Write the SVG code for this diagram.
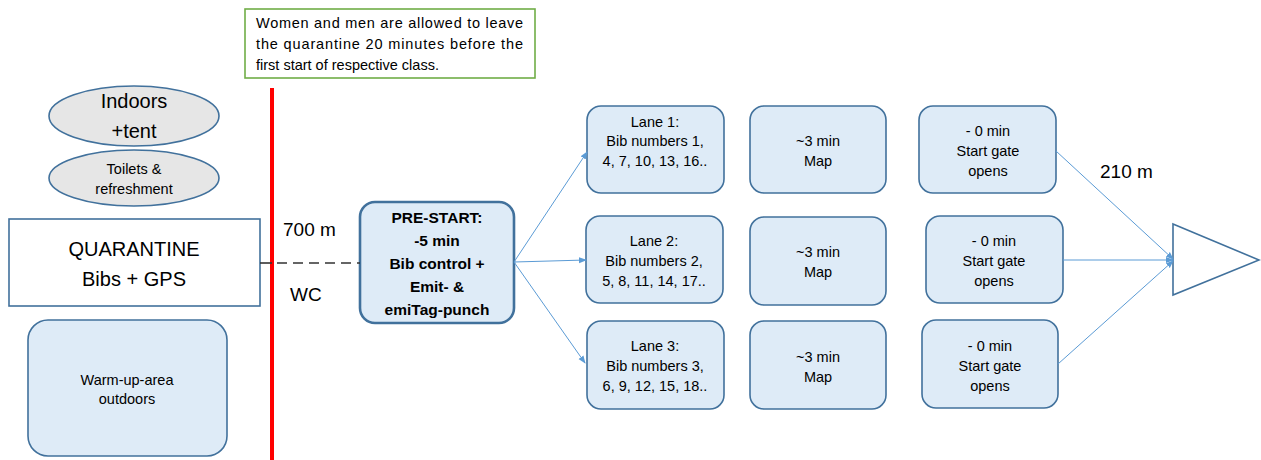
<svg xmlns="http://www.w3.org/2000/svg" width="1261" height="460" viewBox="0 0 1261 460">
<style>
text{font-family:"Liberation Sans",Arial,sans-serif;fill:#000}
.box{fill:#deebf7;stroke:#41719c;stroke-width:1.6}
.ell{fill:#e6e6e6;stroke:#41719c;stroke-width:1.6}
.t14{font-size:14.5px;text-anchor:middle}
.t20{font-size:20px;text-anchor:middle}
.b{font-size:15.5px;font-weight:bold;text-anchor:middle}
.note{font-size:14.5px}
.lbl{font-size:19px}
.conn{stroke:#5b9bd5;stroke-width:1;fill:none}
</style>
<defs>
<marker id="ah" markerWidth="8" markerHeight="8" refX="7" refY="4" orient="auto" markerUnits="userSpaceOnUse">
<path d="M0,1 L8,4 L0,7 Z" fill="#5b9bd5"/>
</marker>
</defs>
<rect width="1261" height="460" fill="#fff"/>

<g id="note">
<rect x="245" y="9" width="290" height="69" fill="#fff" stroke="#70ad47" stroke-width="1.6"/>
<text class="note" x="256" y="28" textLength="267" lengthAdjust="spacing">Women and men are allowed to leave</text>
<text class="note" x="256" y="49" textLength="267" lengthAdjust="spacing">the quarantine 20 minutes before the</text>
<text class="note" x="256" y="70">first start of respective class.</text>
</g>

<g id="barrier">
<line x1="272" y1="88" x2="272" y2="460" stroke="#ff0000" stroke-width="4"/>
</g>

<g id="indoors">
<ellipse class="ell" cx="134" cy="116" rx="85" ry="30"/>
<text class="t20" x="134" y="108">Indoors</text>
<text class="t20" x="134" y="138">+tent</text>
</g>

<g id="toilets">
<ellipse class="ell" cx="134" cy="178" rx="85" ry="28"/>
<text class="t14" x="134" y="174">Toilets &amp;</text>
<text class="t14" x="134" y="194">refreshment</text>
</g>

<g id="quarantine">
<rect x="9" y="219" width="251" height="87" fill="#fff" stroke="#41719c" stroke-width="1.6"/>
<text class="t20" x="134" y="256">QUARANTINE</text>
<text class="t20" x="134" y="286">Bibs + GPS</text>
</g>

<g id="warmup">
<rect class="box" x="28" y="320" width="199" height="136" rx="20"/>
<text class="t14" x="127" y="385">Warm-up-area</text>
<text class="t14" x="127" y="404">outdoors</text>
</g>

<g id="labels">
<text class="lbl" x="283" y="236">700 m</text>
<text class="lbl" x="290" y="301">WC</text>
<text class="lbl" x="1100" y="178">210 m</text>
</g>

<g id="prestart">
<rect x="360" y="202" width="154" height="121" rx="15" fill="#deebf7" stroke="#41719c" stroke-width="2.6"/>
<text class="b" x="437" y="223">PRE-START:</text>
<text class="b" x="437" y="246">-5 min</text>
<text class="b" x="437" y="269">Bib control +</text>
<text class="b" x="437" y="292">Emit- &amp;</text>
<text class="b" x="437" y="315">emiTag-punch</text>
</g>

<g id="lane1">
<rect class="box" x="587" y="106" width="137" height="87" rx="14"/>
<text class="t14" x="655" y="127">Lane 1:</text>
<text class="t14" x="655" y="146">Bib numbers 1,</text>
<text class="t14" x="655" y="166">4, 7, 10, 13, 16..</text>
</g>
<g id="lane2">
<rect class="box" x="586" y="216" width="137" height="87" rx="14"/>
<text class="t14" x="654" y="246">Lane 2:</text>
<text class="t14" x="654" y="266">Bib numbers 2,</text>
<text class="t14" x="654" y="286">5, 8, 11, 14, 17..</text>
</g>
<g id="lane3">
<rect class="box" x="587" y="321" width="137" height="88" rx="14"/>
<text class="t14" x="655" y="351">Lane 3:</text>
<text class="t14" x="655" y="371">Bib numbers 3,</text>
<text class="t14" x="655" y="391">6, 9, 12, 15, 18..</text>
</g>

<g id="map1">
<rect class="box" x="750" y="106" width="136" height="87" rx="14"/>
<text class="t14" x="818" y="146">~3 min</text>
<text class="t14" x="818" y="166">Map</text>
</g>
<g id="map2">
<rect class="box" x="750" y="217" width="136" height="88" rx="14"/>
<text class="t14" x="818" y="257">~3 min</text>
<text class="t14" x="818" y="277">Map</text>
</g>
<g id="map3">
<rect class="box" x="750" y="321" width="136" height="88" rx="14"/>
<text class="t14" x="818" y="362">~3 min</text>
<text class="t14" x="818" y="382">Map</text>
</g>

<g id="gate1">
<rect class="box" x="919" y="106" width="137" height="87" rx="14"/>
<text class="t14" x="988" y="136">- 0 min</text>
<text class="t14" x="988" y="156">Start gate</text>
<text class="t14" x="988" y="176">opens</text>
</g>
<g id="gate2">
<rect class="box" x="926" y="216" width="137" height="87" rx="14"/>
<text class="t14" x="994" y="246">- 0 min</text>
<text class="t14" x="994" y="266">Start gate</text>
<text class="t14" x="994" y="286">opens</text>
</g>
<g id="gate3">
<rect class="box" x="922" y="320" width="136" height="88" rx="14"/>
<text class="t14" x="990" y="351">- 0 min</text>
<text class="t14" x="990" y="371">Start gate</text>
<text class="t14" x="990" y="391">opens</text>
</g>

<g id="start">
<polygon points="1173,224 1259,260 1173,295" fill="#fff" stroke="#41719c" stroke-width="1.6"/>
</g>

<g id="connectors">
<line x1="260" y1="263" x2="272" y2="263" stroke="#333" stroke-width="1.6"/>
<line x1="277" y1="263" x2="360" y2="263" stroke="#333" stroke-width="1.6" stroke-dasharray="10,6"/>
<line class="conn" x1="514" y1="262" x2="587" y2="152" marker-end="url(#ah)"/>
<line class="conn" x1="514" y1="262" x2="586" y2="260" marker-end="url(#ah)"/>
<line class="conn" x1="514" y1="262" x2="585" y2="363" marker-end="url(#ah)"/>
<line class="conn" x1="1056" y1="151" x2="1173" y2="259" marker-end="url(#ah)"/>
<line class="conn" x1="1063" y1="260" x2="1173" y2="260" marker-end="url(#ah)"/>
<line class="conn" x1="1058" y1="364" x2="1173" y2="261" marker-end="url(#ah)"/>
</g>
</svg>
